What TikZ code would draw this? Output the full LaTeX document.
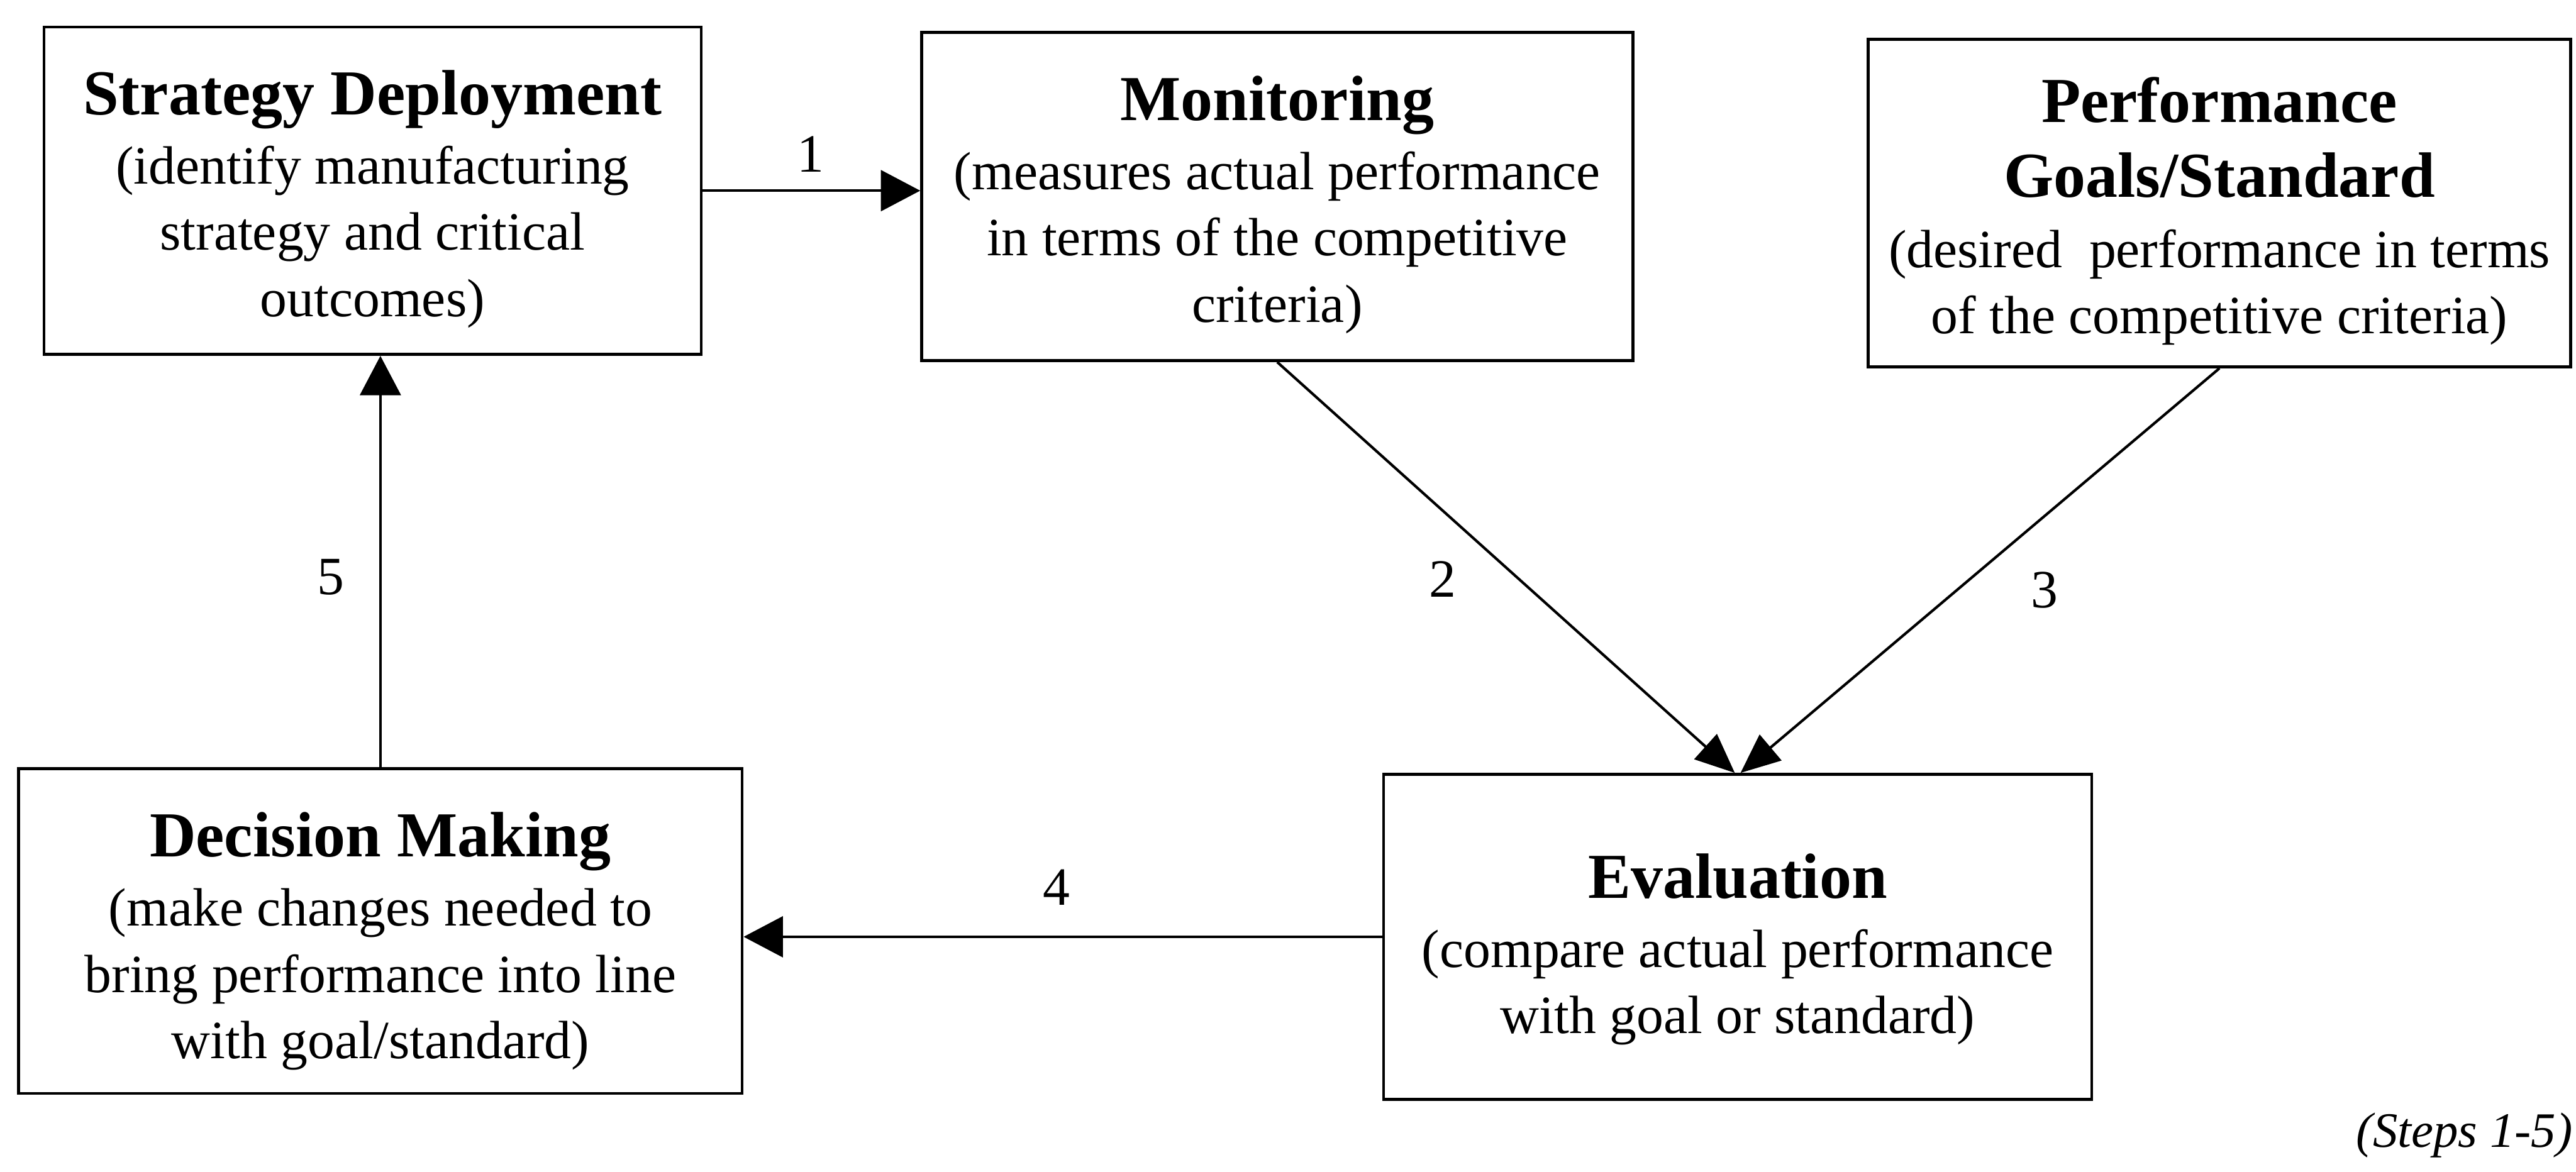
\documentclass[tikz,border=0pt]{standalone}
\usepackage{fontspec}
\setmainfont{Liberation Serif}
\usetikzlibrary{arrows.meta}

\newcommand\cttl{\fontsize{44}{51}\selectfont\bfseries}
\newcommand\cbody{\fontsize{37}{45.5}\selectfont}

\tikzset{
  box/.style={draw, line width=2pt, inner sep=0pt},
  boxtext/.style={align=center, font=\cbody, inner sep=0pt},
  flow/.style={line width=1.8pt, -{Triangle[length=27pt,width=28pt]}},
  flowslim/.style={line width=1.8pt, -{Triangle[length=27pt,width=23pt]}},
  steplabel/.style={font=\cbody, inner sep=0pt},
}

\begin{document}
\begin{tikzpicture}
\useasboundingbox (0,0) rectangle (62.13,28.26);

% boxes
\node[box, minimum width=15.85cm, minimum height=7.90cm] (sd)  at (8.985,23.66) {};
\node[box, minimum width=17.15cm, minimum height=7.92cm] (mon) at (30.805,23.52) {};
\node[box, minimum width=16.94cm, minimum height=7.90cm] (pg)  at (53.53,23.36) {};
\node[box, minimum width=17.45cm, minimum height=7.84cm] (dm)  at (9.175,5.80) {};
\node[box, minimum width=17.08cm, minimum height=7.84cm] (ev)  at (41.91,5.66) {};

% box contents
\node[boxtext] (sd-t) at ([yshift=-2mm]sd.center)
  {{\cttl Strategy Deployment}\\[2pt]
   (identify manufacturing\\ strategy and critical\\ outcomes)};
\node[boxtext] (mon-t) at ([yshift=-2mm]mon.center)
  {{\cttl Monitoring}\\[2pt]
   (measures actual performance\\ in terms of the competitive\\ criteria)};
\node[boxtext] (pg-t) at ([yshift=-2mm]pg.center)
  {{\cttl Performance}\\[5.5pt]
   {\cttl Goals/Standard}\\[3pt]
   (desired\ \ performance in terms\\ of the competitive criteria)};
\node[boxtext] (dm-t) at ([yshift=-2.5mm]dm.center)
  {{\cttl Decision Making}\\[2pt]
   (make changes needed to\\ bring performance into line\\ with goal/standard)};
\node[boxtext] (ev-t) at ([yshift=-3mm]ev.center)
  {{\cttl Evaluation}\\[2pt]
   (compare actual performance\\ with goal or standard)};

% connectors
\draw[flow] (sd.east) -- (sd.east -| mon.west);
\draw[flowslim] (mon.south) -- ([xshift=-0.07cm]ev.north);
\draw[flowslim] (pg.south) -- ([xshift=0.07cm]ev.north);
\draw[flow] (ev.west) -- (ev.west -| dm.east);
\draw[flow, line width=1.5pt] (dm.north) -- (dm.north |- sd.south);

% step numbers
\node[steplabel] (n1) at (19.55,24.54) {1};
\node[steplabel] (n2) at (34.80,14.29) {2};
\node[steplabel] (n3) at (49.31,14.03) {3};
\node[steplabel] (n4) at (25.48,6.86) {4};
\node[steplabel] (n5) at (7.98,14.33) {5};

\node[font=\fontsize{34}{40}\selectfont\itshape, inner sep=0pt, anchor=east] (steps) at (62.05,0.88) {(Steps 1-5)};
\end{tikzpicture}
\end{document}
